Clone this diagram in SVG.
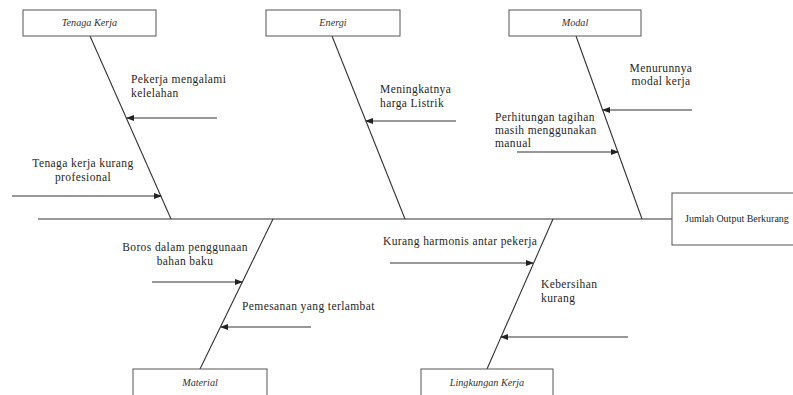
<svg xmlns="http://www.w3.org/2000/svg" width="793" height="395" viewBox="0 0 793 395">
<style>
.box{fill:#fff;stroke:#555;stroke-width:1}
.cat{font-family:"Liberation Serif",serif;font-style:italic;font-size:10.2px;fill:#333;text-anchor:middle}
.lbl{font-family:"Liberation Serif",serif;font-size:11.5px;fill:#262626;letter-spacing:0.4px}
.eff{font-family:"Liberation Serif",serif;font-size:10px;fill:#262626}
.ln{stroke:#333;stroke-width:1.1;fill:none}
.ar{stroke:#333;stroke-width:1.1;fill:none;marker-end:url(#ah)}
.mid{text-anchor:middle}
</style>
<defs>
<marker id="ah" markerWidth="8" markerHeight="6" refX="7" refY="3" orient="auto" markerUnits="userSpaceOnUse">
<path d="M0,0 L8,3 L0,6 Z" fill="#222"/>
</marker>
</defs>
<rect width="793" height="395" fill="#fff"/>
<g id="connectors">
<line class="ln" x1="38" y1="219" x2="673" y2="219"/>
<line class="ln" x1="90" y1="36" x2="171" y2="219"/>
<line class="ln" x1="332" y1="36" x2="405" y2="219"/>
<line class="ln" x1="576" y1="36" x2="642" y2="219"/>
<line class="ln" x1="273" y1="219" x2="200" y2="369"/>
<line class="ln" x1="553" y1="219" x2="487" y2="369"/>
<line class="ar" x1="217" y1="118" x2="127" y2="118"/>
<line class="ar" x1="12" y1="196" x2="161" y2="196"/>
<line class="ar" x1="456" y1="121" x2="366" y2="121"/>
<line class="ar" x1="692" y1="110" x2="603" y2="110"/>
<line class="ar" x1="517" y1="152" x2="618" y2="152"/>
<line class="ar" x1="152" y1="282" x2="242" y2="282"/>
<line class="ar" x1="311" y1="327" x2="221" y2="327"/>
<line class="ar" x1="390" y1="263" x2="533" y2="263"/>
<line class="ar" x1="628" y1="337" x2="501" y2="337"/>
</g>
<g id="tenaga-kerja"><rect class="box" x="23" y="10" width="133" height="26"/><text class="cat" x="89.5" y="26">Tenaga Kerja</text></g>
<g id="energi"><rect class="box" x="266" y="10" width="134" height="26"/><text class="cat" x="333" y="26">Energi</text></g>
<g id="modal"><rect class="box" x="509" y="10" width="132" height="26"/><text class="cat" x="575" y="26">Modal</text></g>
<g id="material"><rect class="box" x="133" y="369" width="134" height="30"/><text class="cat" x="200" y="386">Material</text></g>
<g id="lingkungan-kerja"><rect class="box" x="421" y="369" width="132" height="30"/><text class="cat" x="487" y="386">Lingkungan Kerja</text></g>
<g id="effect"><rect class="box" x="672" y="193" width="125" height="52"/><text class="eff" x="685" y="222">Jumlah Output Berkurang</text></g>
<g id="cause-kelelahan"><text class="lbl" x="131" y="83">Pekerja mengalami</text><text class="lbl" x="131" y="97">kelelahan</text></g>
<g id="cause-profesional"><text class="lbl mid" x="83" y="167">Tenaga kerja kurang</text><text class="lbl mid" x="83" y="181">profesional</text></g>
<g id="cause-listrik"><text class="lbl" x="380" y="93">Meningkatnya</text><text class="lbl" x="380" y="107">harga Listrik</text></g>
<g id="cause-modal-kerja"><text class="lbl mid" x="661" y="72">Menurunnya</text><text class="lbl mid" x="661" y="85">modal kerja</text></g>
<g id="cause-tagihan"><text class="lbl" x="495" y="121">Perhitungan tagihan</text><text class="lbl" x="495" y="134">masih menggunakan</text><text class="lbl" x="495" y="147">manual</text></g>
<g id="cause-boros"><text class="lbl mid" x="185" y="251">Boros dalam penggunaan</text><text class="lbl mid" x="185" y="265">bahan baku</text></g>
<g id="cause-pemesanan"><text class="lbl" x="242" y="310">Pemesanan yang terlambat</text></g>
<g id="cause-harmonis"><text class="lbl" x="383" y="245">Kurang harmonis antar pekerja</text></g>
<g id="cause-kebersihan"><text class="lbl" x="541" y="288">Kebersihan</text><text class="lbl" x="541" y="302">kurang</text></g>
</svg>
